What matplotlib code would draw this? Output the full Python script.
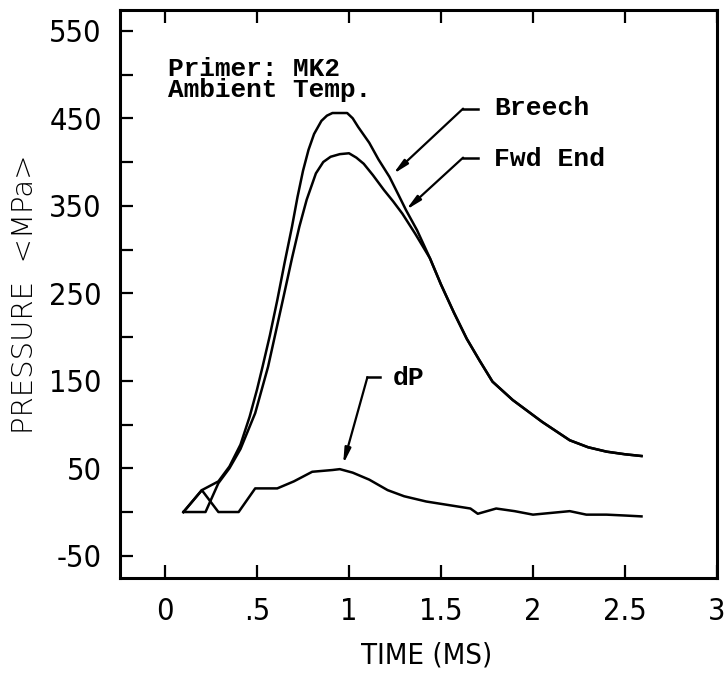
import matplotlib
matplotlib.use("Agg")
import matplotlib.pyplot as plt
from matplotlib import font_manager

# pressure traces (time in ms, pressure in MPa)
breech_t = [0.10, 0.20, 0.29, 0.35, 0.41, 0.46, 0.50, 0.53, 0.57, 0.61, 0.65, 0.69, 0.72,
            0.75, 0.78, 0.81, 0.85, 0.88, 0.91, 0.99, 1.02, 1.05, 1.11, 1.16, 1.22, 1.27,
            1.31, 1.37, 1.44, 1.50, 1.57, 1.64, 1.71, 1.78, 1.89, 2.05, 2.20, 2.30, 2.40,
            2.50, 2.59]
breech_p = [0, 25, 35, 52, 77, 109, 140, 166, 202, 242, 285, 326, 360,
            390, 414, 432, 447, 453, 456, 456, 450, 440, 422, 403, 383, 362,
            345, 322, 290, 260, 228, 198, 173, 149, 128, 103, 82, 74, 69,
            66, 64]

fwd_t = [0.10, 0.22, 0.29, 0.35, 0.41, 0.49, 0.56, 0.64, 0.69, 0.73, 0.77, 0.82, 0.86,
         0.90, 0.95, 1.00, 1.04, 1.08, 1.13, 1.19, 1.24, 1.29, 1.36, 1.44, 1.50, 1.57,
         1.64, 1.71, 1.78, 1.89, 2.05, 2.20, 2.30, 2.40, 2.50, 2.59]
fwd_p = [0, 0, 33, 50, 72, 113, 166, 242, 290, 326, 357, 387, 400,
         406, 409, 410, 405, 398, 385, 368, 355, 341, 318, 290, 260, 228,
         198, 173, 149, 128, 103, 82, 74, 69, 66, 64]

dp_t = [0.10, 0.20, 0.29, 0.40, 0.49, 0.61, 0.70, 0.80, 0.91, 0.95, 1.02, 1.11, 1.21,
        1.30, 1.42, 1.57, 1.66, 1.70, 1.75, 1.80, 1.90, 2.00, 2.10, 2.20, 2.29, 2.40,
        2.50, 2.59]
dp_p = [0, 25, 0, 0, 27, 27, 35, 46, 48, 49, 45, 37, 25,
        18, 12, 7, 4, -2, 1, 4, 1, -3, -1, 1, -3, -3, -4, -5]

x_ticks = [0, 0.5, 1, 1.5, 2, 2.5, 3]
x_labels = ["0", ".5", "1", "1.5", "2", "2.5", "3"]
y_ticks = [-50, 50, 150, 250, 350, 450, 550]
y_minor = [0, 100, 200, 300, 400, 500]

# (label, text position, elbow start, elbow end, arrow tip)
callouts = [
    ("Breech", (1.79, 462), (1.70, 461), (1.62, 461), (1.223, 383)),
    ("Fwd End", (1.79, 404), (1.70, 405), (1.62, 405), (1.293, 342)),
    ("dP", (1.24, 153), (1.17, 154), (1.10, 154), (0.962, 50)),
]

plt.rcParams["axes.unicode_minus"] = False


def narrow_font():
    # the plotter digits are tall and thin, look for any condensed face
    order = ["condensed", "extra-condensed", "semi-condensed", "ultra-condensed"]
    best = None
    for f in font_manager.fontManager.ttflist:
        if f.stretch not in order or f.style != "normal":
            continue
        if "Mono" in f.name or "CJK" in f.name:
            continue
        w = f.weight if isinstance(f.weight, int) else 400
        if w not in (300, 400):
            continue
        rank = (order.index(f.stretch), 0 if w == 400 else 1)
        if best is None or rank < best[0]:
            best = (rank, f.fname)
    if best:
        return font_manager.FontProperties(fname=best[1])
    return font_manager.FontProperties(family="DejaVu Sans")


mono = "Liberation Mono"

fig = plt.figure(figsize=(7.28, 6.82), dpi=100)
ax = fig.add_axes([0.1648, 0.1525, 0.820, 0.8328])

line_kw = dict(color="black", lw=1.8)
ax.plot(breech_t, breech_p, **line_kw)
ax.plot(fwd_t, fwd_p, **line_kw)
ax.plot(dp_t, dp_p, **line_kw)

ax.set_xlim(-0.245, 3.0)
ax.set_ylim(-75.4, 573.7)

for s in ax.spines.values():
    s.set_linewidth(2.2)

ax.set_xticks(x_ticks)
ax.set_xticklabels(x_labels)
ax.set_yticks(y_ticks)
ax.set_yticks(y_minor, minor=True)
ax.tick_params(axis="both", which="both", direction="in", length=9.5, width=1.6, color="black")
ax.tick_params(axis="x", top=True, bottom=True, pad=14)
ax.tick_params(axis="y", left=True, right=False, pad=13)

tick_fp = narrow_font()
tick_fp.set_size(22)
for lab in ax.get_xticklabels() + ax.get_yticklabels():
    lab.set_fontproperties(tick_fp)

xl_fp = tick_fp.copy()
xl_fp.set_size(21)
ax.set_xlabel("TIME (MS)", fontproperties=xl_fp, va="center")
ax.xaxis.set_label_coords(0.514, -0.136)
ax.set_ylabel("PRESSURE  <MPa>", fontfamily="DejaVu Sans", fontsize=21,
              fontweight="light", va="center")
ax.yaxis.set_label_coords(-0.159, 0.5)

ax.text(0.016, 520, "Primer: MK2\nAmbient Temp.", fontfamily=mono, fontweight="bold",
        fontsize=18.8, va="top", ha="left", linespacing=0.85)

for label, txt_pos, e0, e1, tip in callouts:
    ax.text(txt_pos[0], txt_pos[1], label, fontfamily=mono, fontweight="bold",
            fontsize=19, va="center", ha="left")
    ax.plot([e0[0], e1[0]], [e0[1], e1[1]], color="black", lw=1.8)
    ax.annotate("", xy=tip, xytext=e1,
                arrowprops=dict(arrowstyle="-|>,head_length=0.9,head_width=0.18",
                                color="black", lw=1.6, shrinkA=0, shrinkB=3))

fig.savefig("out.png", dpi=100)
